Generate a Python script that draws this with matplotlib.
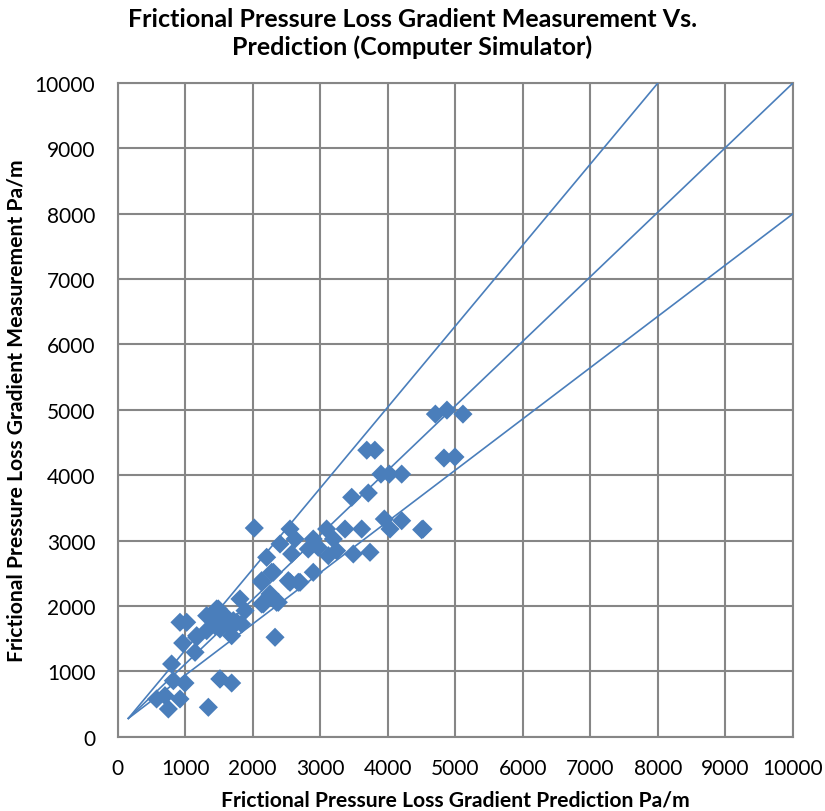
import matplotlib
matplotlib.use("Agg")
import matplotlib.pyplot as plt

plt.rcParams['font.family'] = ['Lato', 'DejaVu Sans']

prediction = [4706, 4877, 5114, 4833, 4996, 4523, 3690, 3810, 3900, 4024, 4207,
              3467, 3713, 3950, 4034, 4207, 4503, 3368, 3615, 3491, 3738,
              2025, 2554, 2628, 2406, 2208, 2578, 2824, 2898, 2972, 3096, 3195,
              3244, 3121, 2898, 2282, 2134, 2529, 2677, 2258, 2356, 2134, 1813,
              1888, 2332, 1492, 1320, 1566, 1443, 1665, 1765, 1690, 1172, 1148,
              1517, 925, 1024, 965, 801, 827, 999, 579, 703, 753, 925, 1517,
              1690, 1345, 1468, 1591, 1715, 1517, 1838, 1172, 1320, 2134, 2307,
              2554, 2258, 2159, 2381, 2702]
measurement = [4935, 4996, 4935, 4263, 4279, 3177, 4383, 4383, 4017, 4017, 4017,
               3662, 3728, 3330, 3177, 3304, 3167, 3177, 3177, 2795, 2821,
               3192, 3177, 3024, 2948, 2744, 2795, 2871, 3024, 2897, 3177, 3024,
               2845, 2769, 2515, 2515, 2387, 2387, 2362, 2183, 2056, 2030, 2107,
               1928, 1521, 1954, 1851, 1801, 1698, 1673, 1750, 1545, 1545, 1291,
               883, 1750, 1750, 1433, 1112, 857, 821, 577, 627, 424, 577, 883,
               821, 450, 1954, 1851, 1775, 1648, 1724, 1521, 1622, 2362, 2515,
               2362, 2158, 2030, 2056, 2362]

line_start = (160, 280)
line_ends = [(8000, 10000), (10000, 10000), (10000, 8000)]

ticks = list(range(0, 10001, 1000))

blue = "#4A7EBB"
grid = "#868686"

W, H = 825, 812
fig = plt.figure(figsize=(W / 100, H / 100), dpi=100)
ax = fig.add_axes([117.5 / W, 1 - 737.7 / H, (793 - 117.5) / W, (737.7 - 84) / H])

for ex, ey in line_ends:
    ax.plot([line_start[0], ex], [line_start[1], ey], color=blue, lw=1.2, zorder=3)

ax.scatter(prediction, measurement, marker='D', s=95, color=blue,
           edgecolors='none', zorder=4)

ax.set_xlim(0, 10000)
ax.set_ylim(0, 10000)
ax.set_xticks(ticks)
ax.set_yticks(ticks)
ax.grid(True, color=grid, lw=1.5, zorder=0)
ax.set_axisbelow(True)
for s in ax.spines.values():
    s.set_color(grid)
    s.set_linewidth(1.5)
ax.tick_params(axis='x', length=0, labelsize=15, pad=15)
ax.tick_params(axis='y', length=0, labelsize=15, pad=16)

fig.text((117.5 + 793) / 2 / W, 1 - 807 / H,
         "Frictional Pressure Loss Gradient Prediction Pa/m",
         ha='center', va='baseline', fontsize=15.2, fontweight='bold')
fig.text(17 / W, 1 - 411 / H,
         "Frictional Pressure Loss Gradient Measurement Pa/m",
         ha='center', va='center', rotation=90, fontsize=15.2, fontweight='bold')
fig.text(0.5, 1 - 27 / H, "Frictional Pressure Loss Gradient Measurement Vs.",
         ha='center', va='baseline', fontsize=18, fontweight='bold')
fig.text(0.5, 1 - 55 / H, "Prediction (Computer Simulator)",
         ha='center', va='baseline', fontsize=18, fontweight='bold')

fig.savefig("out.png", dpi=100)
